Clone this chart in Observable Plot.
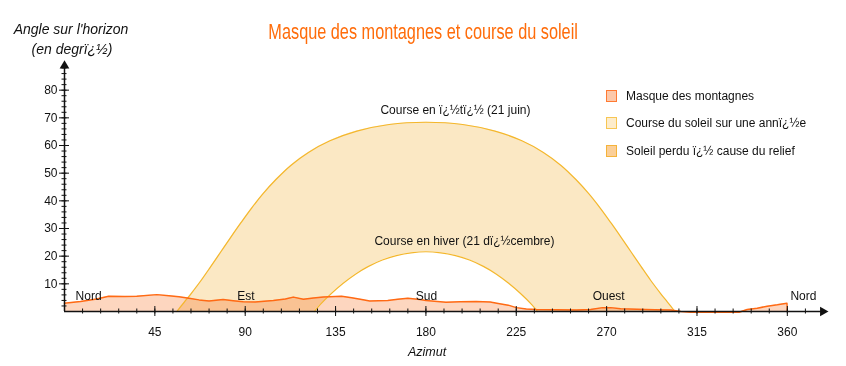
<!DOCTYPE html>
<html>
<head>
<meta charset="utf-8">
<script src="https://cdn.jsdelivr.net/npm/d3@7"></script>
<script src="https://cdn.jsdelivr.net/npm/@observablehq/plot@0.6"></script>
<style>
  body { margin: 0; background: #fff; font-family: "Liberation Sans", Arial, sans-serif; }
  #wrap { position: relative; width: 846px; height: 366px; overflow: hidden; }
  #chart { position: absolute; left: 0; top: 0; }
  #titlebox { position: absolute; left: 0; top: 18px; width: 846px; text-align: center; }
  #title { display: inline-block; transform: scaleX(0.74); transform-origin: 50% 50%;
           font-family: "Liberation Sans", Arial, sans-serif;
           font-size: 22px; color: #ff6c0a; line-height: 28px; white-space: nowrap; }
  .ylab { position: absolute; font-style: italic; font-size: 14px; color: #111; white-space: nowrap;
          transform: translateX(-50%); line-height: 16px; }
  .leg { position: absolute; left: 606px; font-size: 12px; color: #111; white-space: nowrap; line-height: 14px; }
  .leg span.sw { display: inline-block; width: 9px; height: 10px; border: 1.5px solid; vertical-align: middle;
                 margin-right: 9px; position: relative; top: -1px; }
</style>
</head>
<body>
<div id="wrap">
  <div id="chart"></div>
  <div id="titlebox"><span id="title"></span></div>
  <div id="yl1" class="ylab" style="left:71px;top:21px;"></div>
  <div id="yl2" class="ylab" style="left:72px;top:41px;"></div>
  <div id="xl" class="ylab" style="left:427px;top:344px;font-size:12.5px;"></div>
  <div id="legend"></div>
</div>
<script>
// ---- Texts ----
const titleText = "Masque des montagnes et course du soleil";
const yTitleLines = ["Angle sur l'horizon", "(en degrï¿½)"];
const xTitle = "Azimut";
const legendLabels = ["Masque des montagnes", "Course du soleil sur une annï¿½e", "Soleil perdu ï¿½ cause du relief"];
const curveLabels = ["Course en ï¿½tï¿½ (21 juin)", "Course en hiver (21 dï¿½cembre)"];
const curveLabelAz = [194.7, 199.2];
const curveLabelAlt = [72.6, 25.4];
const compassLabels = ["Nord", "Est", "Sud", "Ouest", "Nord"];
const compassAz = [12, 90.3, 180.3, 271, 368];
const compassAlt = 5.4;

// ---- Ticks ----
const xTicks = [45, 90, 135, 180, 225, 270, 315, 360];
const xMinorTicks = d3.range(9, 370, 9);
const yTicks = [10, 20, 30, 40, 50, 60, 70, 80];
const yMinorTicks = d3.range(2, 89, 2);

// ---- Mountain mask (azimuth, angle) ----
const maskAz  = [0, 1, 8, 16, 22, 30, 36, 46, 52, 57, 62, 67, 72, 79, 84, 89, 95, 104, 110, 114, 119, 124, 129, 138, 143, 148, 152, 161, 166, 171, 177, 180, 190, 197, 205, 212, 216, 221, 225, 230, 235, 245, 255, 262, 268, 272, 277, 285, 294, 302, 307, 312, 325, 336, 340, 345, 350, 355, 359, 359.8, 360];
const maskAlt = [3.0, 3.1, 3.6, 4.5, 5.5, 5.4, 5.5, 6.1, 5.7, 5.3, 4.8, 4.2, 3.8, 4.3, 3.9, 3.5, 3.4, 4.0, 4.5, 5.2, 4.4, 4.9, 5.2, 5.5, 5.0, 4.3, 3.8, 4.0, 4.4, 4.8, 4.3, 4.0, 3.3, 3.5, 3.6, 3.4, 2.9, 2.3, 1.4, 0.9, 0.7, 0.6, 0.5, 0.7, 1.4, 1.4, 1.0, 0.8, 0.6, 0.5, 0.0, -0.3, -0.3, -0.3, 0.7, 1.2, 1.9, 2.4, 2.9, 3.0, 0];

// ---- Sun path, 21 June ----
const summerAz  = [56, 59.7, 63.1, 68.1, 72.9, 77.8, 82.7, 87.8, 93.1, 98.9, 105.3, 112.7, 121.5, 132.2, 145.6, 161.7, 180, 198.3, 214.4, 227.8, 238.5, 247.3, 254.7, 261.1, 266.9, 272.2, 277.3, 282.2, 287.1, 291.9, 296.9, 300.3, 304];
const summerAlt = [0, 3.4, 6.5, 11.3, 16.3, 21.5, 26.7, 32.0, 37.3, 42.6, 47.7, 52.8, 57.5, 61.7, 65.2, 67.6, 68.4, 67.6, 65.2, 61.7, 57.5, 52.8, 47.7, 42.6, 37.3, 32.0, 26.7, 21.5, 16.3, 11.3, 6.5, 3.4, 0];

// ---- Sun path, 21 December ----
const winterAz  = [124.4, 127.3, 132.9, 138.8, 144.9, 151.4, 158.3, 165.3, 172.6, 180, 187.4, 194.7, 201.7, 208.6, 215.1, 221.2, 227.1, 232.7, 235.6];
const winterAlt = [0, 2.5, 6.5, 10.2, 13.5, 16.3, 18.6, 20.2, 21.2, 21.6, 21.2, 20.2, 18.6, 16.3, 13.5, 10.2, 6.5, 2.5, 0];

// ---- Colours ----
const bandFill = "#fbe8c4";
const sunLine = "#f4b72c";
const maskFill = "#fdd6bf";
const maskLine = "#ff6a14";
const legendFills = ["#fcc8aa", "#fdeccb", "#fbcf98"];
const legendStrokes = ["#ff7a33", "#f7c653", "#f5b33a"];

const mask = maskAz.map((a, i) => ({az: a, alt: maskAlt[i]}));
const summer = summerAz.map((a, i) => ({az: a, alt: summerAlt[i]}));
const winter = winterAz.map((a, i) => ({az: a, alt: winterAlt[i]}));
const compass = compassLabels.map((t, i) => ({t, az: compassAz[i], alt: compassAlt}));
const curveTexts = curveLabels.map((t, i) => ({t, az: curveLabelAz[i], alt: curveLabelAlt[i]}));

const chart = Plot.plot({
  width: 846, height: 366,
  marginLeft: 64, marginRight: 19, marginTop: 62, marginBottom: 55,
  x: {domain: [0, 380], axis: null},
  y: {domain: [0, 90], axis: null},
  style: {fontFamily: "'Liberation Sans', Arial, sans-serif", fontSize: "12px", color: "#111", overflow: "visible"},
  marks: [
    Plot.areaY(summer, {x: "az", y: "alt", fill: bandFill, curve: "catmull-rom"}),
    Plot.areaY(winter, {x: "az", y: "alt", fill: "white", curve: "catmull-rom"}),
    Plot.areaY(mask, {x: "az", y: "alt", fill: maskFill, mixBlendMode: "multiply"}),
    Plot.line(summer, {x: "az", y: "alt", stroke: sunLine, strokeWidth: 1.2, curve: "catmull-rom"}),
    Plot.line(winter, {x: "az", y: "alt", stroke: sunLine, strokeWidth: 1.2, curve: "catmull-rom"}),
    Plot.line(mask, {x: "az", y: "alt", stroke: maskLine, strokeWidth: 1.5}),
    // axes
    Plot.ruleY([0], {x1: 0, x2: 377, stroke: "#111", strokeWidth: 1.5}),
    Plot.ruleX([0], {y1: 0, y2: 88, stroke: "#111", strokeWidth: 1.5}),
    Plot.dot([{az: 377.7, alt: 0}], {x: "az", y: "alt", symbol: "triangle", r: 3.6, rotate: 90, fill: "#111", stroke: "none"}),
    Plot.dot([{az: 0, alt: 88.8}], {x: "az", y: "alt", symbol: "triangle", r: 3.6, fill: "#111", stroke: "none"}),
    Plot.axisX(xTicks, {tickSize: 10, dy: -5, fill: "none", label: null, stroke: "#111"}),
    Plot.axisX(xMinorTicks, {tickSize: 5, dy: -2.5, fill: "none", label: null, stroke: "#111"}),
    Plot.axisX(xTicks, {tickSize: 0, tickPadding: 16, label: null, fontSize: 12}),
    Plot.axisY(yTicks, {tickSize: 10, dx: 5, fill: "none", label: null, stroke: "#111"}),
    Plot.axisY(yMinorTicks, {tickSize: 5, dx: 2.5, fill: "none", label: null, stroke: "#111"}),
    Plot.axisY(yTicks, {tickSize: 0, tickPadding: 7, label: null, fontSize: 12}),
    // labels
    Plot.text(compass, {x: "az", y: "alt", text: "t", fontSize: 12, fill: "#111"}),
    Plot.text(curveTexts, {x: "az", y: "alt", text: "t", fontSize: 12, fill: "#111"})
  ]
});
document.getElementById("chart").appendChild(chart);

document.getElementById("title").textContent = titleText;
document.getElementById("yl1").textContent = yTitleLines[0];
document.getElementById("yl2").textContent = yTitleLines[1];
document.getElementById("xl").textContent = xTitle;

const legend = document.getElementById("legend");
const legendTops = [89, 116, 144];
legendLabels.forEach((lab, i) => {
  const row = document.createElement("div");
  row.className = "leg";
  row.style.top = legendTops[i] + "px";
  const sw = document.createElement("span");
  sw.className = "sw";
  sw.style.background = legendFills[i];
  sw.style.borderColor = legendStrokes[i];
  row.appendChild(sw);
  row.appendChild(document.createTextNode(lab));
  legend.appendChild(row);
});
</script>
</body>
</html>
